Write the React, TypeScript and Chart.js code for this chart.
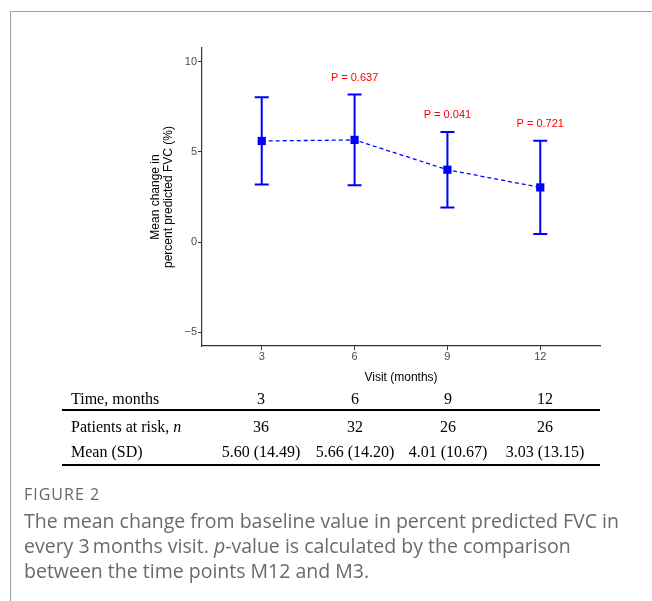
import React, { useEffect, useRef } from 'react';
import { Chart, registerables } from 'chart.js';

Chart.register(...registerables);

// ---- data ----
const visits = [3, 6, 9, 12];
const meanChange = [5.6, 5.66, 4.01, 3.03];
const upperBar = [8.02, 8.17, 6.1, 5.61];
const lowerBar = [3.19, 3.15, 1.92, 0.45];
const pLabels = ['', 'P = 0.637', 'P = 0.041', 'P = 0.721'];
const xTicks = [3, 6, 9, 12];
const yTicks = [-5, 0, 5, 10];
const tableTimes = ['3', '6', '9', '12'];
const patientsAtRisk = ['36', '32', '26', '26'];
const meanSD = ['5.60 (14.49)', '5.66 (14.20)', '4.01 (10.67)', '3.03 (13.15)'];

const SANS = '"Liberation Sans", Arial, Helvetica, sans-serif';
const SERIF = '"Liberation Serif", "Times New Roman", serif';
const CAP = '"Open Sans", "Noto Sans", sans-serif';

const errorBarPlugin = {
  id: 'errorBars',
  beforeDatasetsDraw(chart: any) {
    const { ctx, scales } = chart;
    const x = scales.x;
    const y = scales.y;
    ctx.save();
    ctx.strokeStyle = '#0000ff';
    ctx.lineWidth = 2;
    visits.forEach((v, i) => {
      const px = x.getPixelForValue(v);
      const top = y.getPixelForValue(upperBar[i]);
      const bot = y.getPixelForValue(lowerBar[i]);
      ctx.beginPath();
      ctx.moveTo(px, top);
      ctx.lineTo(px, bot);
      ctx.moveTo(px - 7, top);
      ctx.lineTo(px + 7, top);
      ctx.moveTo(px - 7, bot);
      ctx.lineTo(px + 7, bot);
      ctx.stroke();
    });
    ctx.restore();
  },
  afterDatasetsDraw(chart: any) {
    const { ctx, scales } = chart;
    const x = scales.x;
    const y = scales.y;
    ctx.save();
    ctx.fillStyle = '#ff0000';
    ctx.font = `11px ${SANS}`;
    ctx.textAlign = 'center';
    ctx.textBaseline = 'middle';
    visits.forEach((v, i) => {
      if (!pLabels[i]) return;
      const px = x.getPixelForValue(v);
      const top = y.getPixelForValue(upperBar[i]);
      ctx.fillText(pLabels[i], px, top - 17);
    });
    ctx.restore();
  },
};

function ChartCanvas() {
  const ref = useRef<HTMLCanvasElement | null>(null);
  useEffect(() => {
    if (!ref.current) return;
    const tickFont = { family: SANS, size: 11 };
    const titleFont = { family: SANS, size: 12, lineHeight: 1.1 };
    const chart = new Chart(ref.current, {
      type: 'line',
      data: {
        datasets: [
          {
            data: visits.map((v, i) => ({ x: v, y: meanChange[i] })),
            borderColor: '#0000ff',
            backgroundColor: '#0000ff',
            borderWidth: 1.3,
            borderDash: [4, 3],
            pointStyle: 'rect',
            pointRadius: 5.8,
            pointBorderWidth: 0,
            pointBackgroundColor: '#0000ff',
            tension: 0,
            fill: false,
          },
        ],
      },
      options: {
        responsive: false,
        animation: false,
        events: [],
        layout: { padding: { left: 143, right: 52, top: 48, bottom: 213 } },
        plugins: { legend: { display: false }, tooltip: { enabled: false } },
        scales: {
          x: {
            type: 'linear',
            min: 1.07,
            max: 13.93,
            afterBuildTicks: (s: any) => {
              s.ticks = xTicks.map((v) => ({ value: v }));
            },
            afterFit: (s: any) => {
              s.height = 42;
            },
            grid: {
              display: true,
              drawOnChartArea: false,
              drawTicks: true,
              tickLength: 4,
              color: '#333333',
              lineWidth: 1,
            },
            border: { display: true, color: '#333333', width: 1.2 },
            ticks: {
              padding: 0,
              color: '#4d4d4d',
              font: tickFont,
              maxRotation: 0,
              autoSkip: false,
            },
            title: {
              display: true,
              text: 'Visit (months)',
              color: '#000000',
              font: titleFont,
              padding: { top: 0, bottom: 4 },
            },
          },
          y: {
            type: 'linear',
            min: -5.75,
            max: 10.75,
            afterBuildTicks: (s: any) => {
              s.ticks = yTicks.map((v) => ({ value: v }));
            },
            afterFit: (s: any) => {
              s.width = 59;
            },
            grid: {
              display: true,
              drawOnChartArea: false,
              drawTicks: true,
              tickLength: 4,
              color: '#333333',
              lineWidth: 1,
            },
            border: { display: true, color: '#333333', width: 1.2 },
            ticks: {
              padding: 1,
              color: '#4d4d4d',
              font: tickFont,
              callback: (v: any) => (v < 0 ? '\u2212' + Math.abs(v) : String(v)),
            },
            title: {
              display: true,
              text: ['Mean change in', 'percent predicted FVC (%)'],
              color: '#000000',
              font: titleFont,
              padding: { top: 6, bottom: 0 },
            },
          },
        },
      },
      plugins: [errorBarPlugin],
    } as any);
    return () => chart.destroy();
  }, []);
  return (
    <canvas
      ref={ref}
      width={652}
      height={601}
      style={{ position: 'absolute', left: 0, top: 0, width: 652, height: 601 }}
    />
  );
}

const colCenters = [261, 355, 448, 545];

function Row({ top, label, values, italicN }: { top: number; label: string; values: string[]; italicN?: boolean }) {
  return (
    <>
      <div
        style={{
          position: 'absolute',
          left: 71,
          top,
          height: 20,
          lineHeight: '20px',
          font: `16px ${SERIF}`,
          color: '#000',
          whiteSpace: 'nowrap',
        }}
      >
        {label}
        {italicN ? <i>n</i> : null}
      </div>
      {values.map((v, i) => (
        <div
          key={i}
          style={{
            position: 'absolute',
            left: colCenters[i] - 60,
            width: 120,
            textAlign: 'center',
            top,
            height: 20,
            lineHeight: '20px',
            font: `16px ${SERIF}`,
            color: '#000',
            whiteSpace: 'nowrap',
          }}
        >
          {v}
        </div>
      ))}
    </>
  );
}

export default function App() {
  return (
    <div
      style={{
        position: 'absolute',
        left: 0,
        top: 0,
        width: 652,
        height: 601,
        background: '#ffffff',
        overflow: 'hidden',
      }}
    >
      <div
        style={{
          position: 'absolute',
          left: 10,
          top: 11,
          width: 660,
          height: 620,
          borderTop: '1px solid #a0a0a0',
          borderLeft: '1px solid #a0a0a0',
        }}
      />
      <ChartCanvas />
      <Row top={390} label="Time, months" values={tableTimes} />
      <div style={{ position: 'absolute', left: 62, top: 409, width: 538, height: 2, background: '#000' }} />
      <Row top={418} label="Patients at risk, " values={patientsAtRisk} italicN />
      <Row top={443} label="Mean (SD)" values={meanSD} />
      <div style={{ position: 'absolute', left: 62, top: 464, width: 538, height: 2, background: '#000' }} />
      <div
        style={{
          position: 'absolute',
          left: 24,
          top: 483,
          height: 20,
          lineHeight: '20px',
          font: `16px ${CAP}`,
          letterSpacing: '1px',
          color: '#666666',
          whiteSpace: 'nowrap',
        }}
      >
        FIGURE 2
      </div>
      <div
        style={{
          position: 'absolute',
          left: 24,
          top: 507,
          lineHeight: '25px',
          font: `19.5px ${CAP}`,
          color: '#6a6a6a',
          whiteSpace: 'nowrap',
        }}
      >
        <div style={{ height: 25 }}>The mean change from baseline value in percent predicted FVC in</div>
        <div style={{ height: 25 }}>
          every 3{'\u2009'}months visit. <i>p</i>-value is calculated by the comparison
        </div>
        <div style={{ height: 25 }}>between the time points M12 and M3.</div>
      </div>
    </div>
  );
}
